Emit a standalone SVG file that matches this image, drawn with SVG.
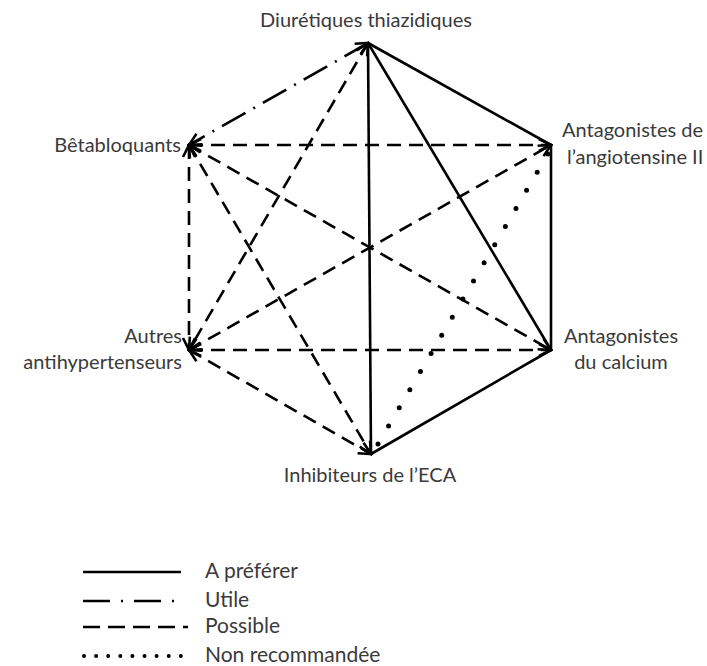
<svg xmlns="http://www.w3.org/2000/svg" width="707" height="666" viewBox="0 0 707 666">
<style>
text{font-family:Lato,"Open Sans","Liberation Sans",sans-serif;font-size:20px;fill:#3a3a3a}
.lg text{font-size:21px}
.e{fill:none;stroke:#000;stroke-width:2.6}
.dash{stroke-dasharray:14 8;marker-start:url(#ar);marker-end:url(#ar)}
.dd{stroke-dasharray:27 9 2 9;marker-start:url(#ar);marker-end:url(#ar)}
.dot{stroke-width:5;stroke-linecap:round;stroke-dasharray:0 21}
.ldot{stroke-width:4;stroke-linecap:round;stroke-dasharray:0 12.1}
.ldd{stroke-dasharray:27 11 2 11}
.ldash{stroke-dasharray:17 8}
</style>
<defs>
<marker id="ar" viewBox="-14 -8 16 16" refX="0" refY="0" markerWidth="16" markerHeight="16" markerUnits="userSpaceOnUse" orient="auto-start-reverse">
<path d="M-12,-6 L0,0 L-12,6" fill="none" stroke="#000" stroke-width="2.6" stroke-dasharray="none"/>
</marker>
</defs>
<rect width="707" height="666" fill="#fff"/>
<g id="connectors">
<line class="e" x1="368" y1="43" x2="551" y2="145"/>
<line class="e" x1="368" y1="43" x2="551" y2="350"/>
<line class="e" x1="368" y1="43" x2="371" y2="454"/>
<line class="e" x1="551" y1="145" x2="551" y2="350"/>
<line class="e" x1="551" y1="350" x2="371" y2="454"/>
<line class="e dd" x1="368" y1="43" x2="189" y2="145"/>
<line class="e dash" x1="368" y1="43" x2="189" y2="350"/>
<line class="e dash" x1="189" y1="145" x2="551" y2="145"/>
<line class="e dash" x1="189" y1="145" x2="189" y2="350"/>
<line class="e dash" x1="189" y1="145" x2="551" y2="350"/>
<line class="e dash" x1="189" y1="145" x2="371" y2="454"/>
<line class="e dash" x1="189" y1="350" x2="551" y2="145"/>
<line class="e dash" x1="189" y1="350" x2="551" y2="350"/>
<line class="e dash" x1="189" y1="350" x2="371" y2="454"/>
<line class="e dot" x1="378" y1="444" x2="549" y2="152"/>
</g>
<g id="n-diuretiques"><text x="366" y="27" text-anchor="middle">Diurétiques thiazidiques</text></g>
<g id="n-betabloquants"><text x="181" y="152" text-anchor="end">Bêtabloquants</text></g>
<g id="n-angiotensine"><text x="562" y="137">Antagonistes de</text><text x="567" y="164">l’angiotensine II</text></g>
<g id="n-autres"><text x="182" y="343" text-anchor="end">Autres</text><text x="182" y="369" text-anchor="end">antihypertenseurs</text></g>
<g id="n-calcium"><text x="621" y="343" text-anchor="middle">Antagonistes</text><text x="621" y="369" text-anchor="middle">du calcium</text></g>
<g id="n-eca"><text x="370" y="482" text-anchor="middle">Inhibiteurs de l’ECA</text></g>
<g id="legend" class="lg">
<line class="e" x1="83" y1="572" x2="181" y2="572"/>
<line class="e ldd" x1="83" y1="601" x2="183" y2="601"/>
<line class="e ldash" x1="83" y1="627" x2="188" y2="627"/>
<line class="e ldot" x1="84" y1="656" x2="182" y2="656"/>
<text x="205" y="578">A préférer</text>
<text x="205" y="607">Utile</text>
<text x="205" y="633">Possible</text>
<text x="205" y="662">Non recommandée</text>
</g>
</svg>
